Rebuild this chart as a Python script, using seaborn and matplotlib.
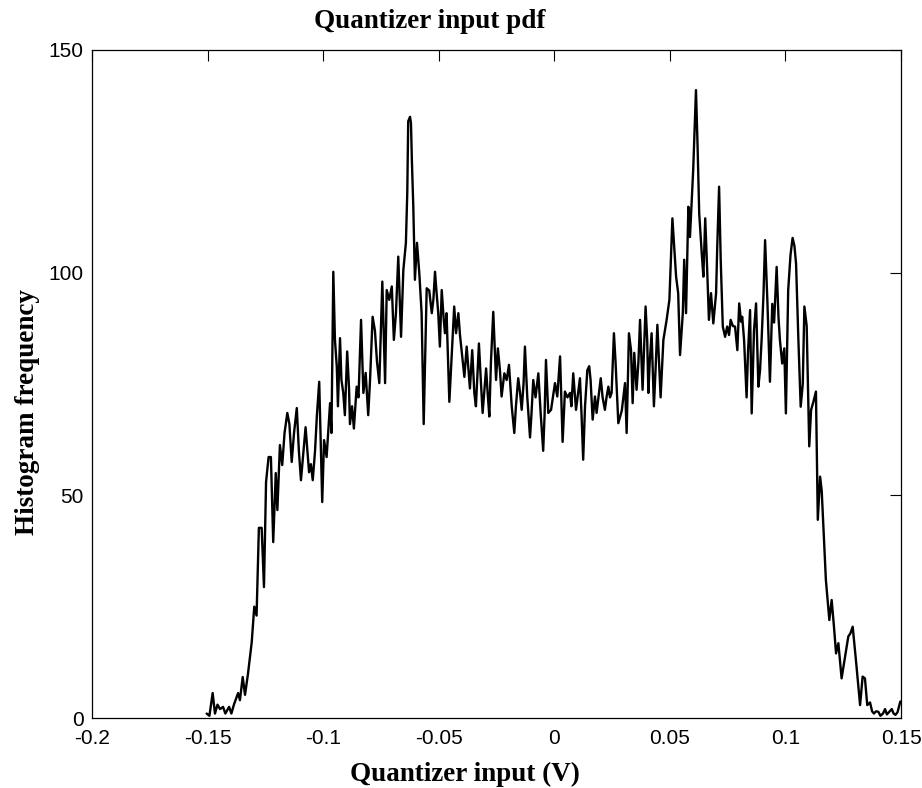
import matplotlib
matplotlib.use("Agg")
import matplotlib.pyplot as plt
import matplotlib.font_manager as fm
import numpy as np
import pandas as pd
import seaborn as sns

# Histogram of the quantizer input (bin centre in volts, count per bin)
quantizer_input = [
    -0.1504, -0.1492, -0.1478, -0.1468, -0.1457, -0.1446, -0.1433, -0.1423, -0.1407, -0.1397,
    -0.1386, -0.1368, -0.1360, -0.1348, -0.1338, -0.1325, -0.1309, -0.1298, -0.1288, -0.1278,
    -0.1266, -0.1256, -0.1247, -0.1236, -0.1226, -0.1216, -0.1205, -0.1198, -0.1187, -0.1177,
    -0.1167, -0.1155, -0.1146, -0.1136, -0.1126, -0.1114, -0.1105, -0.1096, -0.1085, -0.1076,
    -0.1068, -0.1061, -0.1053, -0.1045, -0.1035, -0.1027, -0.1017, -0.1004, -0.0996, -0.0985,
    -0.0970, -0.0964, -0.0956, -0.0949, -0.0941, -0.0936, -0.0927, -0.0921, -0.0913, -0.0906,
    -0.0896, -0.0888, -0.0884, -0.0875, -0.0867, -0.0855, -0.0847, -0.0836, -0.0826, -0.0816,
    -0.0805, -0.0797, -0.0786, -0.0776, -0.0767, -0.0757, -0.0744, -0.0732, -0.0725, -0.0714,
    -0.0703, -0.0694, -0.0685, -0.0675, -0.0663, -0.0653, -0.0642, -0.0636, -0.0632, -0.0624,
    -0.0620, -0.0616, -0.0610, -0.0603, -0.0594, -0.0584, -0.0574, -0.0565, -0.0552, -0.0541,
    -0.0530, -0.0523, -0.0516, -0.0510, -0.0502, -0.0495, -0.0487, -0.0479, -0.0473, -0.0466,
    -0.0454, -0.0445, -0.0433, -0.0425, -0.0415, -0.0408, -0.0401, -0.0389, -0.0379, -0.0371,
    -0.0365, -0.0355, -0.0346, -0.0339, -0.0326, -0.0317, -0.0310, -0.0302, -0.0295, -0.0287,
    -0.0281, -0.0274, -0.0264, -0.0257, -0.0252, -0.0244, -0.0235, -0.0228, -0.0216, -0.0206,
    -0.0196, -0.0184, -0.0173, -0.0166, -0.0156, -0.0148, -0.0141, -0.0133, -0.0127, -0.0117,
    -0.0105, -0.0099, -0.0091, -0.0081, -0.0069, -0.0059, -0.0048, -0.0042, -0.0036, -0.0026,
    -0.0014, -0.0006, 0.0003, 0.0013, 0.0025, 0.0036, 0.0046, 0.0057, 0.0068, 0.0074,
    0.0082, 0.0094, 0.0103, 0.0111, 0.0118, 0.0125, 0.0133, 0.0143, 0.0151, 0.0157,
    0.0166, 0.0176, 0.0183, 0.0191, 0.0201, 0.0209, 0.0219, 0.0226, 0.0234, 0.0241,
    0.0248, 0.0258, 0.0265, 0.0277, 0.0292, 0.0299, 0.0306, 0.0313, 0.0323, 0.0332,
    0.0339, 0.0346, 0.0356, 0.0364, 0.0371, 0.0382, 0.0395, 0.0402, 0.0407, 0.0413,
    0.0421, 0.0431, 0.0438, 0.0446, 0.0460, 0.0472, 0.0486, 0.0498, 0.0511, 0.0519,
    0.0527, 0.0536, 0.0544, 0.0556, 0.0562, 0.0570, 0.0580, 0.0587, 0.0594, 0.0601,
    0.0609, 0.0613, 0.0620, 0.0627, 0.0638, 0.0645, 0.0653, 0.0662, 0.0669, 0.0678,
    0.0688, 0.0700, 0.0705, 0.0713, 0.0720, 0.0729, 0.0739, 0.0748, 0.0756, 0.0763,
    0.0773, 0.0782, 0.0792, 0.0800, 0.0808, 0.0813, 0.0821, 0.0832, 0.0838, 0.0847,
    0.0854, 0.0864, 0.0873, 0.0883, 0.0890, 0.0897, 0.0905, 0.0912, 0.0922, 0.0933,
    0.0943, 0.0951, 0.0962, 0.0970, 0.0976, 0.0986, 0.0995, 0.1002, 0.1012, 0.1022,
    0.1031, 0.1039, 0.1046, 0.1056, 0.1066, 0.1075, 0.1082, 0.1092, 0.1103, 0.1111,
    0.1121, 0.1132, 0.1140, 0.1150, 0.1157, 0.1167, 0.1175, 0.1190, 0.1200, 0.1210,
    0.1219, 0.1229, 0.1243, 0.1258, 0.1272, 0.1281, 0.1291, 0.1305, 0.1323, 0.1334,
    0.1344, 0.1354, 0.1366, 0.1375, 0.1383, 0.1392, 0.1402, 0.1411, 0.1422, 0.1431,
    0.1439, 0.1448, 0.1460, 0.1468, 0.1476, 0.1485, 0.1497,
]

histogram_count = [
    1, 0.5, 5.6, 1, 3, 2, 2.5, 1, 2.5, 1,
    3, 5.6, 4, 9.2, 5.2, 10, 17, 25, 23, 42.7,
    42.7, 29.4, 53, 58.6, 58.6, 39.5, 55, 46.7, 61.3, 56.8,
    64, 68.5, 66, 57.5, 64, 69.6, 60, 53.4, 60, 65.3,
    60, 55.2, 57, 53.4, 60, 68, 75.5, 48.5, 62.4, 58.6,
    70.7, 64, 100.2, 85, 78.9, 70, 85.3, 76, 73, 68,
    82.3, 74, 66, 70, 65, 74.4, 72, 89.4, 73, 77.5,
    68, 76, 90.1, 87, 80, 75.2, 98, 75.2, 96.1, 93.9,
    96.9, 84.9, 90.9, 103.6, 85.6, 100.6, 106.7, 118, 134, 135,
    133.5, 125, 114.9, 98.4, 106.7, 99.9, 90.9, 66, 96.5, 96,
    90.9, 94, 100.2, 96, 90.9, 83.4, 96.1, 90, 86.4, 90.9,
    71, 80, 92.4, 86.4, 90.9, 86, 82.6, 76.6, 83.4, 78,
    74, 82.6, 73, 70, 84.1, 75, 68.5, 74, 78.5, 72,
    67.7, 80, 91.2, 82, 75.9, 83, 78, 72.2, 77.4, 75.9,
    79.3, 69.9, 64, 70, 76.3, 73, 69.2, 75, 83.4, 72.2,
    63, 68, 75.9, 72, 77.4, 68.5, 60, 68, 80.4, 68.5,
    69.2, 72, 75.2, 72.2, 81.2, 62, 73.3, 72, 73, 70,
    77.4, 69.2, 73, 76.3, 68, 58, 70, 78.1, 79, 75.9,
    67, 72.2, 68.5, 72, 76.3, 72, 69.2, 72, 74.4, 72,
    73, 86.4, 80, 66.2, 69, 72, 75.2, 64, 86.4, 82.6,
    70.7, 82, 73.7, 80, 89.4, 73.7, 92.4, 84.9, 73, 80,
    86.4, 70, 78, 88.3, 72, 84.9, 89.4, 93.9, 112.2, 105.8,
    99.1, 95.4, 81.5, 90.9, 102.9, 90.9, 114.8, 108, 115.6, 123.1,
    135, 141, 128.3, 113.3, 104.3, 99.1, 112.2, 99.9, 89.4, 95.4,
    88.6, 95.4, 105.8, 119.3, 102.9, 87.9, 85.6, 87.9, 86, 89.4,
    88, 87.9, 82.6, 93.1, 89, 90.1, 85, 72, 82, 91.6,
    68.4, 87, 93.1, 74.4, 78, 85, 95, 107.3, 93.5, 75.5,
    93, 88.8, 101.3, 90, 85, 79.6, 83, 68.4, 96.1, 104,
    107.8, 106, 102, 85, 69.9, 75, 92.4, 88, 61, 69.2,
    71, 73.3, 44.5, 54.2, 51, 40, 31, 22, 26.5, 20.5,
    14.5, 16.8, 8.9, 13.8, 18.3, 19, 20.5, 13, 2.9, 9.3,
    8.9, 2.9, 3.5, 1.5, 1, 1.5, 1.4, 0.5, 1, 2,
    0.8, 1.3, 2, 1, 0.7, 1.3, 3.7,
]

x_ticks = [-0.2, -0.15, -0.1, -0.05, 0, 0.05, 0.1, 0.15]
x_tick_labels = ["-0.2", "-0.15", "-0.1", "-0.05", "0", "0.05", "0.1", "0.15"]
y_ticks = [0, 50, 100, 150]
y_tick_labels = ["0", "50", "100", "150"]

df = pd.DataFrame({"input": quantizer_input, "count": histogram_count})

sns.set_theme(style="white")
installed = {f.name for f in fm.fontManager.ttflist}
tick_family = [f for f in ["Liberation Sans Narrow", "Liberation Sans", "DejaVu Sans"] if f in installed]
plt.rcParams["font.family"] = tick_family
plt.rcParams.update({
    "text.color": "black",
    "axes.labelcolor": "black",
    "xtick.color": "black",
    "ytick.color": "black",
    "axes.edgecolor": "black",
})

fig = plt.figure(figsize=(9.22, 7.88), dpi=100)
ax = fig.add_axes([92 / 922, 1 - 718 / 788, (901 - 92) / 922, (718 - 50) / 788])

sns.lineplot(data=df, x="input", y="count", ax=ax, color="black",
             linewidth=1.7, sort=False, estimator=None)

ax.set_xlim(-0.2, 0.15)
ax.set_ylim(0, 150)
ax.set_xticks(x_ticks)
ax.set_xticklabels(x_tick_labels)
ax.set_yticks(y_ticks)
ax.set_yticklabels(y_tick_labels)
ax.tick_params(direction="in", length=8, width=0.8, colors="black",
               labelcolor="black", top=True, right=True, labelsize=15)
ax.tick_params(axis="x", pad=8)
ax.tick_params(axis="y", pad=6)
for side in ax.spines.values():
    side.set_color("black")
    side.set_linewidth(0.9)
ax.set_xlabel("")
ax.set_ylabel("")

serif = ["Liberation Serif", "DejaVu Serif"]
fig.text(430 / 922, 1 - 22 / 788, "Quantizer input pdf", ha="center", va="center",
         fontsize=19.5, fontweight="bold", family=serif, color="black")
fig.text(465 / 922, 1 - 774 / 788, "Quantizer input (V)", ha="center", va="center",
         fontsize=19.5, fontweight="bold", family=serif, color="black")
fig.text(28 / 922, 1 - 412 / 788, "Histogram frequency", ha="center", va="center",
         rotation=90, fontsize=19.5, fontweight="bold", family=serif, color="black")

fig.savefig("out.png", dpi=100, facecolor="white")
